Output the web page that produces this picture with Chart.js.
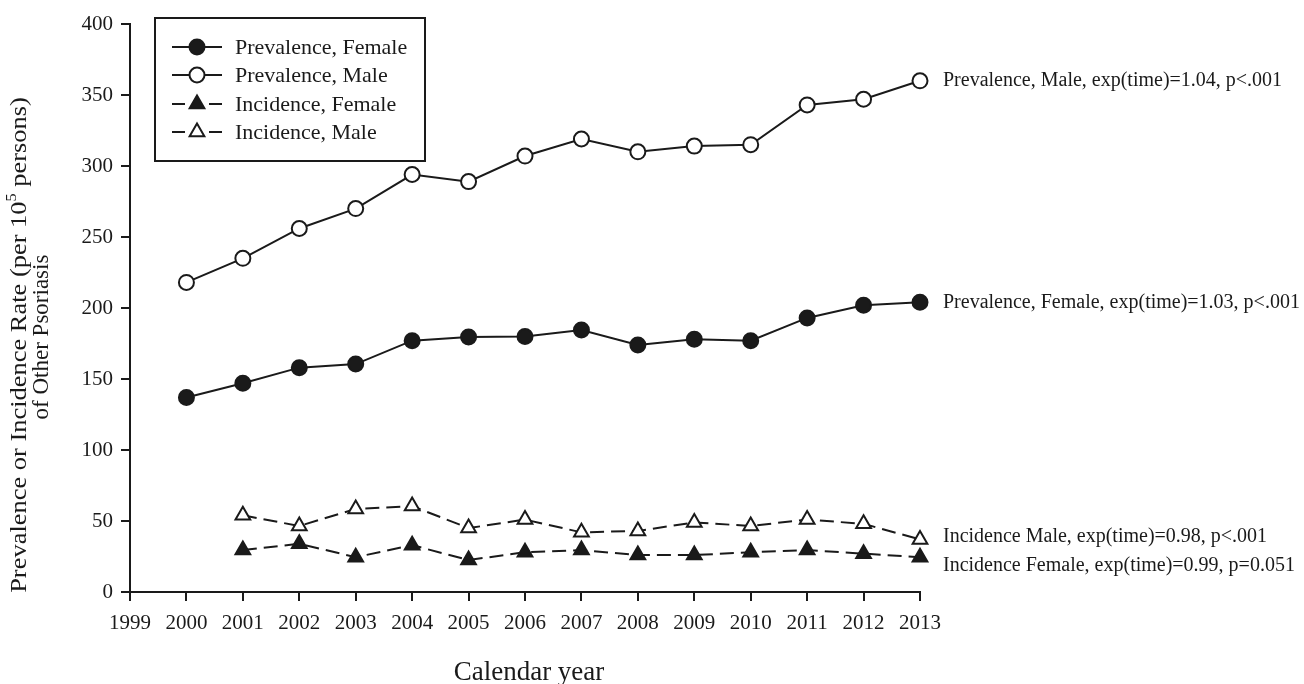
<!DOCTYPE html>
<html><head><meta charset="utf-8">
<script src="https://cdn.jsdelivr.net/npm/chart.js@4/dist/chart.umd.min.js"></script>
<style>html,body{margin:0;padding:0;background:#fff}#wrap{width:1304px;height:684px;position:relative}</style>
</head><body><div id="wrap"><canvas id="c" width="1304" height="684"></canvas></div>
<script>
const prevYears = [2000,2001,2002,2003,2004,2005,2006,2007,2008,2009,2010,2011,2012,2013];
const incYears = [2001,2002,2003,2004,2005,2006,2007,2008,2009,2010,2011,2012,2013];
const prevFemale = [137,147,158,160.5,177,179.5,180,184.5,174,178,177,193,202,204];
const prevMale = [218,235,256,270,294,289,307,319,310,314,315,343,347,360];
const incFemale = [29.5,34,24.5,33,22.5,28,29.5,26,26,28,29.5,27,24.5];
const incMale = [54,46.5,58.5,60.5,45,51,42,43,49,46.5,51,48,37];
const seriesNames = ["Prevalence, Female","Prevalence, Male","Incidence, Female","Incidence, Male"];
const endLabels = ["Prevalence, Female, exp(time)=1.03, p<.001","Prevalence, Male, exp(time)=1.04, p<.001","Incidence Female, exp(time)=0.99, p=0.051","Incidence Male, exp(time)=0.98, p<.001"];
const xMin = 1999, xMax = 2013, yMin = 0, yMax = 400, yStep = 50;
const xTitle = "Calendar year";
const yTitle1a = "Prevalence or Incidence Rate (per 10", yTitleSup = "5", yTitle1b = " persons)";
const yTitle2 = "of Other Psoriasis";

const INK = '#1a1a1a';
const FONT = '"Liberation Serif","Times New Roman",serif';
const pts = (xs, ys) => xs.map((x,i)=>({x, y: ys[i]}));
function ds(label, xs, ys, style, fill, dashed){
  return {label, data: pts(xs,ys), borderColor: INK, borderWidth: 2, borderDash: dashed?[14,7]:[],
    pointStyle: style, pointRadius: style==='triangle'?8.5:7.5, pointBorderWidth: 2,
    pointBackgroundColor: fill, pointBorderColor: INK, fill:false, tension:0, clip:false};
}
const datasets = [
  ds(seriesNames[0], prevYears, prevFemale, 'circle', INK, false),
  ds(seriesNames[1], prevYears, prevMale, 'circle', '#ffffff', false),
  ds(seriesNames[2], incYears, incFemale, 'triangle', INK, true),
  ds(seriesNames[3], incYears, incMale, 'triangle', '#ffffff', true)
];

const deco = {
  id:'deco',
  afterDraw(chart){
    const ctx = chart.ctx, xs = chart.scales.x, ys = chart.scales.y, ca = chart.chartArea;
    ctx.save();
    ctx.fillStyle = INK; ctx.strokeStyle = INK;
    // legend box
    ctx.lineWidth = 2;
    ctx.strokeRect(155, 18, 270, 143);
    const rowY = [47,75,104,132];
    datasets.forEach((d,i)=>{
      const y = rowY[i];
      ctx.lineWidth = 2; ctx.strokeStyle = INK;
      ctx.setLineDash([]);
      ctx.beginPath();
      if (d.borderDash.length){
        ctx.moveTo(172,y); ctx.lineTo(185,y); ctx.moveTo(209,y); ctx.lineTo(222,y);
      } else { ctx.moveTo(172,y); ctx.lineTo(222,y); }
      ctx.stroke();
      ctx.fillStyle = d.pointBackgroundColor;
      Chart.helpers.drawPoint(ctx, {pointStyle:d.pointStyle, radius:d.pointRadius, borderWidth:2, rotation:0}, 197, y);
      ctx.fillStyle = INK;
      ctx.font = '22px '+FONT; ctx.textAlign='left'; ctx.textBaseline='middle';
      ctx.fillText(d.label, 235, y+1);
    });
    // end labels
    ctx.font = '20px '+FONT; ctx.textAlign='left'; ctx.textBaseline='middle';
    const offs = [0,0,9,-3];
    datasets.forEach((d,i)=>{
      const last = d.data[d.data.length-1];
      ctx.fillText(endLabels[i], xs.getPixelForValue(last.x)+23, ys.getPixelForValue(last.y)+offs[i]);
    });
    // x title
    ctx.font = '27px '+FONT; ctx.textAlign='center'; ctx.textBaseline='alphabetic';
    ctx.fillText(xTitle, (ca.left+ca.right)/2+4, 680);
    // y title
    ctx.textBaseline='middle';
    const F1 = 23, FS = 14, STRETCH = 1.15;
    ctx.font = F1+'px '+FONT;
    const w1 = ctx.measureText(yTitle1a).width, w3 = ctx.measureText(yTitle1b).width;
    ctx.font = FS+'px '+FONT;
    const w2 = ctx.measureText(yTitleSup).width;
    const tot = w1+w2+w3;
    ctx.save();
    ctx.translate(20, 345); ctx.rotate(-Math.PI/2); ctx.scale(STRETCH,1);
    ctx.textAlign='left';
    ctx.font = F1+'px '+FONT; ctx.fillText(yTitle1a, -tot/2, 0);
    ctx.font = FS+'px '+FONT; ctx.fillText(yTitleSup, -tot/2+w1, -8);
    ctx.font = F1+'px '+FONT; ctx.fillText(yTitle1b, -tot/2+w1+w2, 0);
    ctx.restore();
    ctx.save();
    ctx.translate(42, 337); ctx.rotate(-Math.PI/2); ctx.scale(1.0,1);
    ctx.textAlign='center'; ctx.font = F1+'px '+FONT;
    ctx.fillText(yTitle2, 0, 0);
    ctx.restore();
    ctx.restore();
  }
};

new Chart(document.getElementById('c'), {
  type:'line',
  data:{datasets},
  options:{
    responsive:false, animation:false, devicePixelRatio:1,
    layout:{padding:{top:24,right:384,left:0,bottom:0}},
    plugins:{legend:{display:false}, tooltip:{enabled:false}},
    scales:{
      x:{type:'linear', min:xMin, max:xMax,
        ticks:{stepSize:1, autoSkip:false, maxRotation:0, color:INK, font:{family:FONT,size:21}, padding:10, callback:v=>String(v)},
        grid:{display:true, drawOnChartArea:false, drawTicks:true, tickLength:9, color:INK, lineWidth:2},
        border:{display:true, color:INK, width:2},
        afterFit(s){s.height=92;}},
      y:{min:yMin, max:yMax,
        ticks:{stepSize:yStep, color:INK, font:{family:FONT,size:21}, padding:8},
        grid:{display:true, drawOnChartArea:false, drawTicks:true, tickLength:9, color:INK, lineWidth:2},
        border:{display:true, color:INK, width:2},
        afterFit(s){s.width=130;}}
    }
  },
  plugins:[deco]
});
</script></body></html>
